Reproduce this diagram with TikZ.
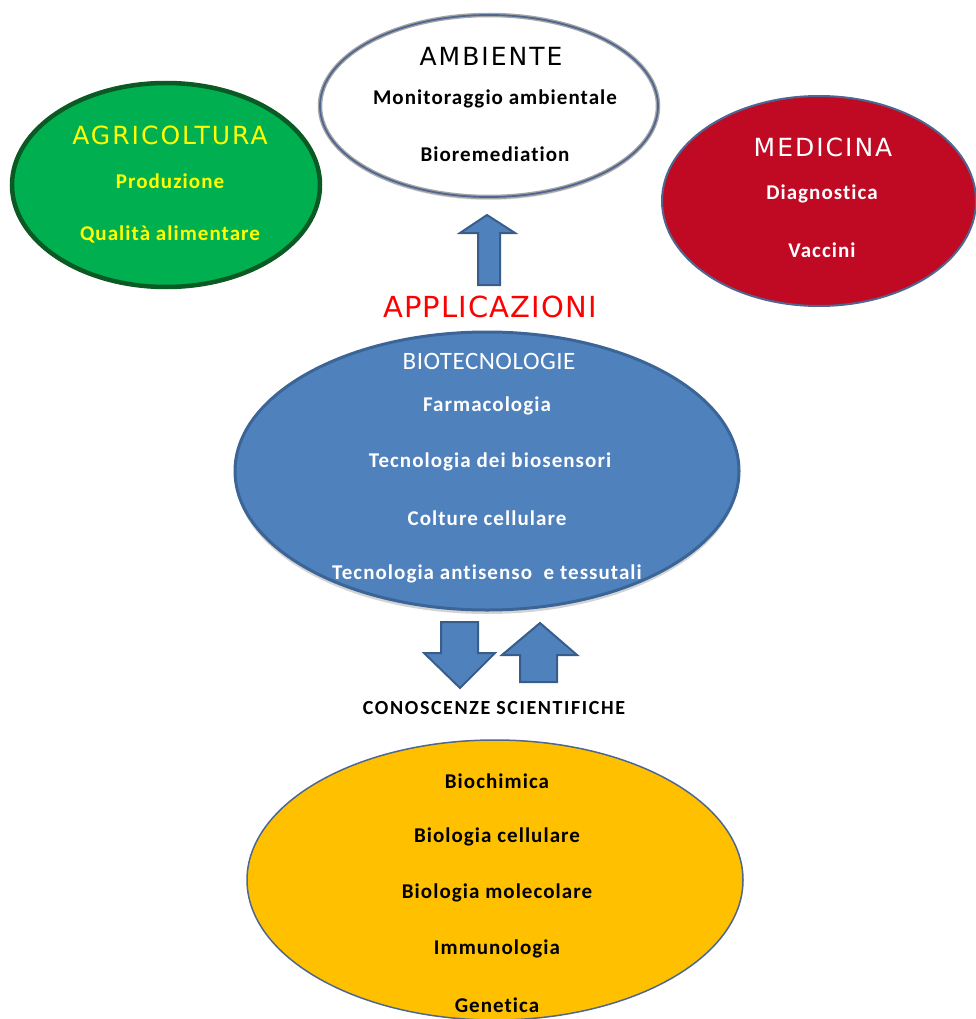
\documentclass[tikz,border=0pt]{standalone}
\usepackage{fontspec}
\setmainfont{Carlito}
\newfontfamily\headfont[LetterSpace=8]{DejaVu Sans}
\newfontfamily\appfont[LetterSpace=4]{DejaVu Sans}
\newfontfamily\itemfont[LetterSpace=5,Ligatures=NoCommon]{Carlito}
\newfontfamily\capsfont[LetterSpace=8,Ligatures=NoCommon]{Carlito}
\newfontfamily\biotfont[LetterSpace=2]{Carlito}
\usetikzlibrary{shapes.geometric,shadows}

\definecolor{agrigreen}{HTML}{00B050}
\definecolor{agriedge}{HTML}{0B5A24}
\definecolor{medred}{HTML}{C00A24}
\definecolor{slateedge}{HTML}{4F6790}
\definecolor{biotblue}{HTML}{4F81BD}
\definecolor{biotedge}{HTML}{3A6596}
\definecolor{arrowedge}{HTML}{385D8A}
\definecolor{scigold}{HTML}{FFC000}
\definecolor{lemon}{HTML}{FFFF00}
\definecolor{appred}{HTML}{FF0000}

\tikzset{
  field/.style={ellipse, inner sep=0pt},
  head/.style={font=\headfont\fontsize{25}{25}\selectfont},
  item/.style={font=\itemfont\bfseries\fontsize{21}{21}\selectfont},
  blockarrow/.style={fill=biotblue, draw=arrowedge, line width=2pt, line join=miter},
}

\begin{document}
\begin{tikzpicture}[x=1pt,y=-1pt]
\useasboundingbox (0,0) rectangle (976,1019);

% --- application fields ---------------------------------------------
\node[field, minimum width=338pt, minimum height=182pt, fill=white,
      draw=gray!70, line width=4.5pt,
      drop shadow={opacity=0.25, shadow xshift=0pt, shadow yshift=-3pt}] (amb) at (489,106) {};
\draw[slateedge, line width=1.8pt] (amb.center) ellipse [x radius=169, y radius=91];

\node[field, minimum width=308pt, minimum height=204pt, fill=agrigreen,
      draw=agriedge, line width=4.5pt] (agri) at (166,185) {};

\node[field, minimum width=314pt, minimum height=210pt, fill=medred,
      draw=slateedge, line width=2pt] (med) at (819,201) {};

% texts of the fields
\node[head] (ambT) at (491,56) {AMBIENTE};
\node[item] (amb1) at (495,99) {Monitoraggio ambientale};
\node[item] (amb2) at (495,154) {Bioremediation};

\node[head, text=lemon] (agriT) at (170,135) {AGRICOLTURA};
\node[item, text=lemon] (agri1) at (170,181) {Produzione};
\node[item, text=lemon] (agri2) at (170,234) {Qualità alimentare};

\node[head, text=white] (medT) at (823,147) {MEDICINA};
\node[item, text=white] (med1) at (822,194) {Diagnostica};
\node[item, text=white] (med2) at (822,250) {Vaccini};

% --- arrow towards the applications ---------------------------------
\coordinate (upTip) at (487,215);
\draw[blockarrow] (upTip) -- (515,233) -- (500,233) -- (500,285)
      -- (478,285) -- (478,233) -- (460,233) -- cycle;

\node[font=\appfont\fontsize{29}{29}\selectfont, text=appred] (app) at (490,307) {APPLICAZIONI};

% --- biotechnologies --------------------------------------------------
\node[field, minimum width=504pt, minimum height=278pt, fill=biotblue,
      draw=biotedge, line width=3pt,
      drop shadow={opacity=0.35, shadow xshift=0pt, shadow yshift=-4pt}] (biot) at (487,471) {};

\node[font=\biotfont\fontsize{25}{25}\selectfont, text=white] (biotT) at (489,361) {BIOTECNOLOGIE};
\node[item, text=white] (biot1) at (487,406) {Farmacologia};
\node[item, text=white] (biot2) at (490,462) {Tecnologia dei biosensori};
\node[item, text=white] (biot3) at (487,518) {Colture cellulare};
\node[item, text=white] (biot4) at (487,574) {Tecnologia antisenso\ \ e tessutali};

% --- two-way arrows between knowledge and technology --------------------
\coordinate (downTip) at (460,688);
\draw[blockarrow] (downTip) -- (424,653) -- (441,653) -- (441,622)
      -- (478,622) -- (478,653) -- (495,653) -- cycle;
\coordinate (up2Tip) at (540,623);
\draw[blockarrow] (up2Tip) -- (577,655) -- (557,655) -- (557,682)
      -- (520,682) -- (520,655) -- (502,655) -- cycle;

\node[font=\capsfont\bfseries\fontsize{20}{20}\selectfont] (sci) at (494,708) {CONOSCENZE SCIENTIFICHE};

% --- scientific knowledge ----------------------------------------------
\node[field, minimum width=496pt, minimum height=280pt, fill=scigold,
      draw=slateedge, line width=1.5pt] (know) at (495,880) {};

\node[item] (k1) at (497,781) {Biochimica};
\node[item] (k2) at (497,837) {Biologia cellulare};
\node[item] (k3) at (497,893) {Biologia molecolare};
\node[item] (k4) at (497,949) {Immunologia};
\node[item] (k5) at (497,1005) {Genetica};
\end{tikzpicture}
\end{document}
